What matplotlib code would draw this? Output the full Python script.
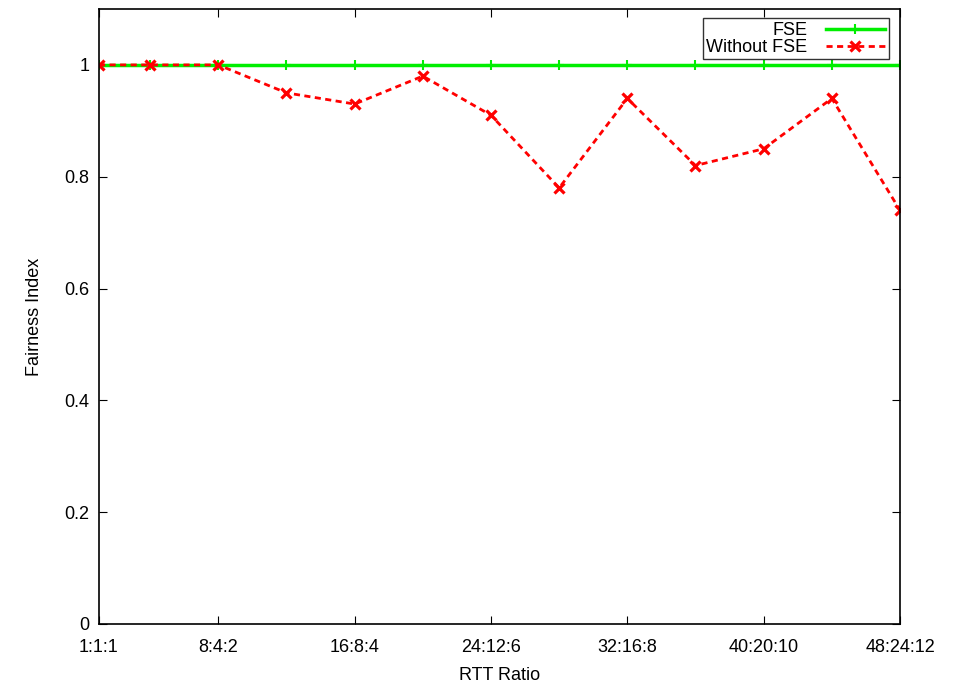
import matplotlib
matplotlib.use('Agg')
from matplotlib import pyplot as plt

plt.rcParams['font.family'] = ['Liberation Sans', 'DejaVu Sans']

x_values = [1, 4, 8, 12, 16, 20, 24, 28, 32, 36, 40, 44, 48]
fse = [1, 1, 1, 1, 1, 1, 1, 1, 1, 1, 1, 1, 1]
without_fse = [1.0, 1.0, 1.0, 0.95, 0.93, 0.98, 0.91, 0.78, 0.94, 0.82, 0.85, 0.94, 0.74]
tick_positions = [1, 8, 16, 24, 32, 40, 48]
tick_labels = ['1:1:1', '8:4:2', '16:8:4', '24:12:6', '32:16:8', '40:20:10', '48:24:12']

fig = plt.figure(figsize=(9.66, 6.87), dpi=100)
ax = fig.add_axes([99 / 966, 1 - 624 / 687, 801 / 966, 615 / 687])

ax.plot(x_values, fse, color='#00ee00', linestyle='solid', linewidth=2.5,
        marker='+', markersize=7, markeredgewidth=1.5, label='FSE')
ax.plot(x_values, without_fse, color='#ff0000', linestyle=(0, (2.2, 1.6)), linewidth=2,
        marker='x', markersize=7.5, markeredgewidth=2.3, label='Without FSE')

ax.set_xlim(1, 48)
ax.set_ylim(0, 1.1)
ax.set_xticks(tick_positions)
ax.set_xticklabels(tick_labels)
ax.set_yticks([0, 0.2, 0.4, 0.6, 0.8, 1])
ax.set_yticklabels(['0', '0.2', '0.4', '0.6', '0.8', '1'])
ax.tick_params(direction='in', top=True, right=True, length=6, labelsize=13)
ax.tick_params(axis='x', pad=11)
ax.tick_params(axis='y', pad=7)
for spine in ax.spines.values():
    spine.set_linewidth(1.2)

ax.set_xlabel('RTT Ratio', fontsize=13, labelpad=8)
ax.set_ylabel('Fairness Index', fontsize=13, labelpad=15)

leg = ax.legend(loc='upper right', bbox_to_anchor=(0.986, 0.985), markerfirst=False,
                fontsize=13, frameon=True, fancybox=False, edgecolor='black',
                handlelength=3.3, borderpad=0.2, labelspacing=0.0, handletextpad=1.0,
                borderaxespad=0)
leg.get_frame().set_linewidth(1.0)

plt.savefig('out.png', dpi=100)
